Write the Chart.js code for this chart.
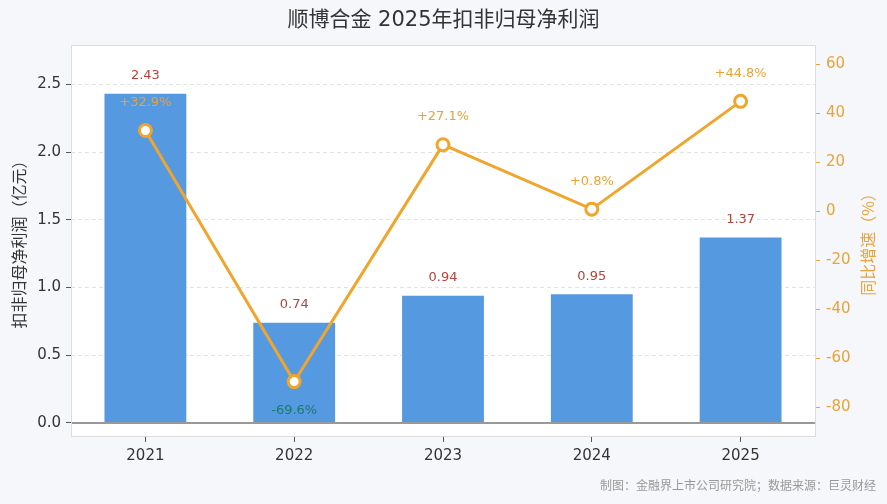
<!DOCTYPE html>
<html>
<head>
<meta charset="utf-8">
<script src="https://cdn.jsdelivr.net/npm/chart.js@4.4.1/dist/chart.umd.min.js"></script>
<style>
  html, body { margin: 0; padding: 0; background: #F5F7FA; }
  #wrap { width: 887px; height: 504px; }
</style>
</head>
<body>
<div id="wrap"><canvas id="profitChart" width="887" height="504"></canvas></div>
<script>
// data
const years = ['2021', '2022', '2023', '2024', '2025'];
const netProfit = [2.43, 0.74, 0.94, 0.95, 1.37];
const yoyGrowth = [32.9, -69.6, 27.1, 0.8, 44.8];
const profitTicks = [0, 0.5, 1.0, 1.5, 2.0, 2.5];
const growthTicks = [-80, -60, -40, -20, 0, 20, 40, 60];

const titleText = '顺博合金 2025年扣非归母净利润';
const leftTitle = '扣非归母净利润（亿元）';
const rightTitle = '同比增速（%）';
const footerText = '制图：金融界上市公司研究院；数据来源：巨灵财经';

const barColor = '#5599E0';
const lineColor = '#F0A52C';
const orangeText = '#E8A33A';

Chart.defaults.font.family = '"DejaVu Sans", "Noto Sans CJK SC", sans-serif';

// background, frame, title, footer
const framePlugin = {
    id: 'framePlugin',
    beforeDraw(chart) {
        const ctx = chart.ctx;
        const a = chart.chartArea;
        ctx.save();
        ctx.fillStyle = '#F5F7FA';
        ctx.fillRect(0, 0, chart.width, chart.height);
        ctx.fillStyle = '#ffffff';
        ctx.fillRect(a.left, a.top, a.right - a.left, a.bottom - a.top);
        ctx.restore();
    },
    afterDatasetsDraw(chart) {
        const ctx = chart.ctx;
        const a = chart.chartArea;
        const y0 = chart.scales.y.getPixelForValue(0);
        ctx.save();
        ctx.strokeStyle = '#999999';
        ctx.lineWidth = 2;
        ctx.beginPath();
        ctx.moveTo(a.left, y0);
        ctx.lineTo(a.right, y0);
        ctx.stroke();
        ctx.restore();
    },
    afterDraw(chart) {
        const ctx = chart.ctx;
        const a = chart.chartArea;
        ctx.save();
        ctx.strokeStyle = '#dcdcdc';
        ctx.lineWidth = 1;
        ctx.strokeRect(a.left + 0.5, a.top + 0.5, a.right - a.left, a.bottom - a.top);

        ctx.fillStyle = '#333333';
        ctx.font = '21px "DejaVu Sans", "Noto Sans CJK SC", sans-serif';
        ctx.textAlign = 'center';
        ctx.textBaseline = 'middle';
        ctx.fillText(titleText, chart.width / 2, 21);

        ctx.fillStyle = '#999999';
        ctx.font = '12px "Noto Sans CJK SC", sans-serif';
        ctx.textAlign = 'right';
        ctx.fillText(footerText, 876, 485);

        // right axis title reads bottom to top
        ctx.translate(868, (a.top + a.bottom) / 2);
        ctx.rotate(-Math.PI / 2);
        ctx.fillStyle = orangeText;
        ctx.font = '16px "Noto Sans CJK SC", sans-serif';
        ctx.textAlign = 'center';
        ctx.fillText(rightTitle, 0, 0);
        ctx.restore();
    }
};

// value labels
const labelPlugin = {
    id: 'labelPlugin',
    afterDatasetsDraw(chart) {
        const ctx = chart.ctx;
        ctx.save();
        ctx.font = '13px "DejaVu Sans", sans-serif';
        ctx.textAlign = 'center';
        ctx.textBaseline = 'middle';

        const bars = chart.getDatasetMeta(0).data;
        bars.forEach((bar, i) => {
            ctx.fillStyle = '#B5433A';
            ctx.fillText(netProfit[i].toFixed(2), bar.x, bar.y - 18);
        });

        const pts = chart.getDatasetMeta(1).data;
        pts.forEach((pt, i) => {
            const v = yoyGrowth[i];
            if (v >= 0) {
                ctx.fillStyle = orangeText;
                ctx.fillText('+' + v.toFixed(1) + '%', pt.x, pt.y - 28);
            } else {
                ctx.fillStyle = '#1A7A6A';
                ctx.fillText(v.toFixed(1) + '%', pt.x, pt.y + 29);
            }
        });
        ctx.restore();
    }
};

const ctx = document.getElementById('profitChart').getContext('2d');
const profitChart = new Chart(ctx, {
    data: {
        labels: years,
        datasets: [{
            type: 'bar',
            label: '扣非归母净利润',
            data: netProfit,
            backgroundColor: barColor,
            barPercentage: 0.55,
            categoryPercentage: 1,
            yAxisID: 'y',
            order: 2
        }, {
            type: 'line',
            label: '同比增速',
            data: yoyGrowth,
            borderColor: lineColor,
            borderWidth: 3,
            pointRadius: 6,
            pointHoverRadius: 6,
            pointBorderWidth: 3,
            pointBackgroundColor: '#ffffff',
            pointBorderColor: lineColor,
            tension: 0,
            yAxisID: 'y1',
            order: 1
        }]
    },
    options: {
        responsive: false,
        animation: false,
        devicePixelRatio: 1,
        layout: { padding: { top: 45, left: 0, right: 0, bottom: 0 } },
        plugins: {
            legend: { display: false },
            tooltip: { enabled: false },
            title: { display: false }
        },
        scales: {
            x: {
                offset: true,
                grid: {
                    offset: false,
                    drawOnChartArea: false,
                    drawTicks: true,
                    tickLength: 6,
                    tickColor: '#555555'
                },
                border: { display: false },
                ticks: { color: '#333333', font: { size: 15 }, padding: 5 },
                afterFit: function (scale) { scale.height = 68; }
            },
            y: {
                position: 'left',
                min: -0.096,
                max: 2.79,
                afterBuildTicks: function (scale) {
                    scale.ticks = profitTicks.map(v => ({ value: v }));
                },
                afterFit: function (scale) { scale.width = 71; },
                grid: {
                    color: function (c) {
                        return c.tick && c.tick.value === 0 ? 'rgba(0,0,0,0)' : '#e2e2e2';
                    },
                    lineWidth: 1,
                    tickLength: 5,
                    tickColor: '#555555',
                    tickBorderDash: []
                },
                border: { display: false, dash: [4, 3] },
                ticks: {
                    color: '#333333',
                    font: { size: 15 },
                    padding: 5,
                    callback: function (v) { return Number(v).toFixed(1); }
                },
                title: {
                    display: true,
                    text: leftTitle,
                    color: '#333333',
                    font: { size: 16, family: '"Noto Sans CJK SC", sans-serif' },
                    padding: { top: 9, bottom: 0 }
                }
            },
            y1: {
                position: 'right',
                min: -91.8,
                max: 67.8,
                afterBuildTicks: function (scale) {
                    scale.ticks = growthTicks.map(v => ({ value: v }));
                },
                afterFit: function (scale) { scale.width = 72; },
                grid: {
                    drawOnChartArea: false,
                    tickLength: 5,
                    tickColor: orangeText
                },
                border: { display: false },
                ticks: {
                    color: orangeText,
                    font: { size: 15 },
                    padding: 6,
                    callback: function (v) { return String(v); }
                }
            }
        }
    },
    plugins: [framePlugin, labelPlugin]
});
</script>
</body>
</html>
